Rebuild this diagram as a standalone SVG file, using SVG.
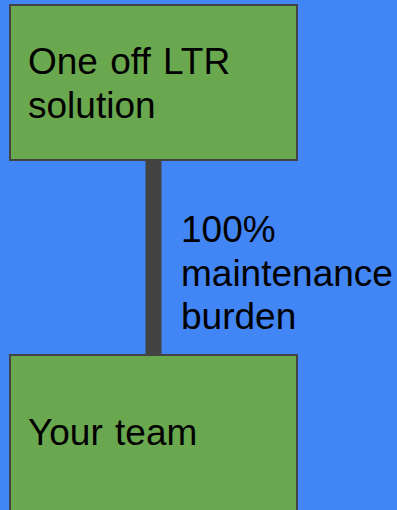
<svg xmlns="http://www.w3.org/2000/svg" width="397" height="510" viewBox="0 0 397 510">
<style>
.box{fill:#6aa84f;stroke:#434343;stroke-width:2}
.t{font-family:"Liberation Sans",Arial,sans-serif;font-size:37px;word-spacing:2px;fill:#000}
.conn{stroke:#434343;stroke-width:16;fill:none}
</style>
<rect x="0" y="0" width="397" height="510" fill="#4285f4"/>
<g id="connectors">
<line class="conn" x1="153.5" y1="160" x2="153.5" y2="355"/>
<text class="t" x="181" y="242">100%</text>
<text class="t" x="181" y="286">maintenance</text>
<text class="t" x="181" y="329">burden</text>
</g>
<g id="node-ltr">
<rect class="box" x="10" y="5" width="287" height="155"/>
<text class="t" x="28" y="74">One off LTR</text>
<text class="t" x="28" y="118">solution</text>
</g>
<g id="node-team">
<rect class="box" x="10" y="355" width="287" height="160"/>
<text class="t" x="28" y="445">Your team</text>
</g>
</svg>
